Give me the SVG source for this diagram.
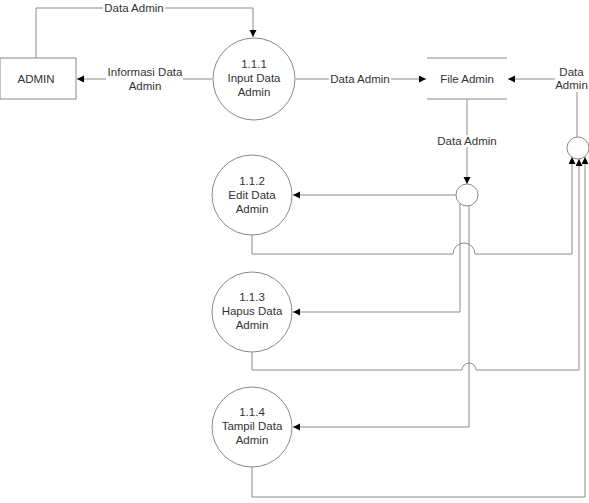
<svg xmlns="http://www.w3.org/2000/svg" width="589" height="503" viewBox="0 0 589 503">
<style>
text{font-family:"Liberation Sans",Arial,sans-serif;font-size:11.5px;fill:#333;text-anchor:middle}
.ln{fill:none;stroke:#8a8a8a;stroke-width:1}
.nd{fill:#fff;stroke:#8a8a8a;stroke-width:1}
.bg{fill:#fff}
</style>
<defs>
<marker id="ah" markerUnits="userSpaceOnUse" markerWidth="8" markerHeight="8" refX="7" refY="3.5" orient="auto">
<path d="M0,0 L7,3.5 L0,7 z" fill="#000"/>
</marker>
</defs>
<rect width="589" height="503" fill="#fff"/>
<g id="connectors">
<path class="ln" d="M36,58 V8 H253 V37" marker-end="url(#ah)"/>
<path class="ln" d="M212,79 H77" marker-end="url(#ah)"/>
<path class="ln" d="M296,79 H426" marker-end="url(#ah)"/>
<path class="ln" d="M577,137 V79 H508" marker-end="url(#ah)"/>
<path class="ln" d="M467,99 V184" marker-end="url(#ah)"/>
<path class="ln" d="M456,195 H293" marker-end="url(#ah)"/>
<path class="ln" d="M460,204 V312 H293" marker-end="url(#ah)"/>
<path class="ln" d="M469,205 V427 H293" marker-end="url(#ah)"/>
<path class="ln" d="M252,235 V254 H453 A11,11 0 0 1 475,254 H572 V157" marker-end="url(#ah)"/>
<path class="ln" d="M252,352 V370 H462 A7,7 0 0 1 476,370 H579 V159" marker-end="url(#ah)"/>
<path class="ln" d="M252,467 V497 H585 V157" marker-end="url(#ah)"/>
<rect class="bg" x="103" y="2" width="62" height="12"/>
<text x="134" y="12">Data Admin</text>
<rect class="bg" x="106" y="66" width="77" height="26"/>
<text x="145" y="76">Informasi Data</text>
<text x="145" y="89.5">Admin</text>
<rect class="bg" x="329" y="73" width="62" height="12"/>
<text x="360" y="83">Data Admin</text>
<rect class="bg" x="555" y="65" width="34" height="27"/>
<text x="571.5" y="76">Data</text>
<text x="571.5" y="89">Admin</text>
<rect class="bg" x="436" y="135" width="62" height="12"/>
<text x="467" y="145">Data Admin</text>
</g>
<g id="admin">
<rect class="nd" x="0" y="58" width="76" height="41"/>
<text x="36" y="83">ADMIN</text>
</g>
<g id="p111">
<circle class="nd" cx="254" cy="79" r="41"/>
<text x="254" y="68">1.1.1</text>
<text x="254" y="82">Input Data</text>
<text x="254" y="96">Admin</text>
</g>
<g id="fileadmin">
<line class="ln" x1="427" y1="58" x2="507" y2="58"/>
<line class="ln" x1="427" y1="99" x2="507" y2="99"/>
<text x="467" y="83">File Admin</text>
</g>
<g id="j1">
<circle class="nd" cx="467" cy="195" r="11"/>
</g>
<g id="j2">
<circle class="nd" cx="578" cy="148" r="11"/>
</g>
<g id="p112">
<circle class="nd" cx="252" cy="195" r="40"/>
<text x="252" y="185">1.1.2</text>
<text x="252" y="199">Edit Data</text>
<text x="252" y="213">Admin</text>
</g>
<g id="p113">
<circle class="nd" cx="252" cy="312" r="40"/>
<text x="252" y="301">1.1.3</text>
<text x="252" y="315">Hapus Data</text>
<text x="252" y="329">Admin</text>
</g>
<g id="p114">
<circle class="nd" cx="252" cy="427" r="40"/>
<text x="252" y="416">1.1.4</text>
<text x="252" y="430">Tampil Data</text>
<text x="252" y="444">Admin</text>
</g>
</svg>
